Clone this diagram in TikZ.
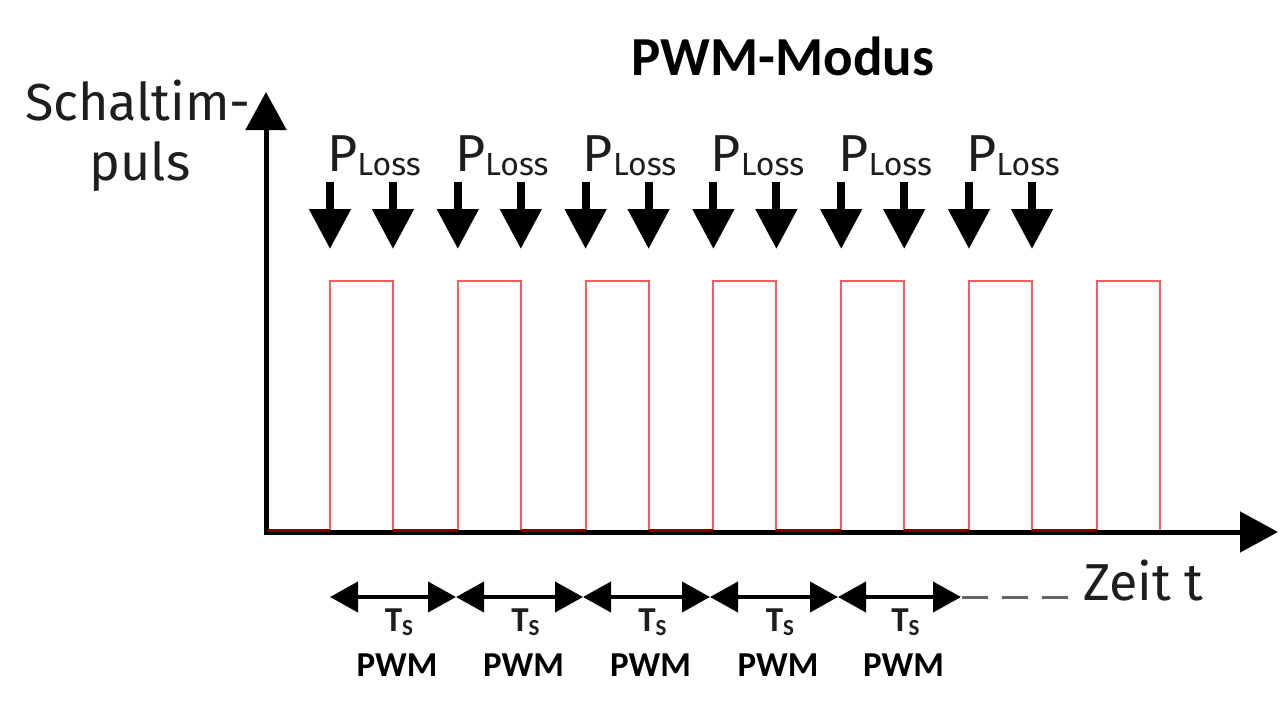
\documentclass[tikz,border=0pt]{standalone}
\usepackage{fontspec}
\setmainfont{Fira Sans}
\newfontfamily\carl{Carlito}
\usetikzlibrary{arrows.meta}
\definecolor{pulsered}{HTML}{FF5A5A}
\definecolor{lowred}{HTML}{800000}
\definecolor{txtgray}{HTML}{1E1E1E}
\tikzset{
  axisline/.style={line width=5pt, line join=miter, {Triangle[length=38pt,width=40pt]}-{Triangle[length=38pt,width=40pt]}},
  pulse/.style={draw=pulsered, line width=2pt},
  lowseg/.style={draw=lowred, line width=2.5pt},
  lossarrow/.style={line width=8pt, -{Triangle[length=40pt,width=40pt]}},
  periodarrow/.style={line width=4pt, {Triangle[length=28pt,width=30pt]}-{Triangle[length=28pt,width=30pt]}},
  contline/.style={draw=gray!80!black, line width=3pt, dash pattern=on 26pt off 14pt},
  bigtxt/.style={inner sep=0pt, text=txtgray, font=\fontsize{52}{60}\selectfont},
  titletxt/.style={inner sep=0pt, font=\carl\bfseries\fontsize{55}{60}\selectfont},
  tstxt/.style={inner sep=0pt, text=txtgray, font=\carl\bfseries\fontsize{35}{35}\selectfont},
  pwmtxt/.style={inner sep=0pt, font=\carl\bfseries\fontsize{35}{35}\selectfont},
  losstxt/.style={inner sep=0pt, text=txtgray}
}
\begin{document}
\begin{tikzpicture}[x=1pt,y=-1pt]
\useasboundingbox (0,0) rectangle (1280,707);
% axes
\coordinate (O) at (266,532);
\coordinate (ytip) at (266,92);
\coordinate (xtip) at (1278,532);
% pulses
\foreach \i in {0,...,6}{
  \pgfmathsetmacro{\xl}{330+127.8*\i}
  \pgfmathsetmacro{\xr}{\xl+63}
  \coordinate (pl\i) at (\xl,532);
  \coordinate (pr\i) at (\xr,532);
  \draw[pulse] (pl\i) -- (\xl,281) -- (\xr,281) -- (pr\i);
}
\draw[axisline] (ytip) -- (O) -- (xtip);
\draw[lowseg] (268,530.5) -- ([yshift=1.5pt]pl0);
\foreach \i/\j in {0/1,1/2,2/3,3/4,4/5,5/6}{
  \draw[lowseg] ([yshift=1.5pt]pr\i) -- ([yshift=1.5pt]pl\j);
}
% loss arrows and labels
\foreach \i in {0,...,5}{
  \pgfmathsetmacro{\xl}{330+127.8*\i}
  \pgfmathsetmacro{\xr}{\xl+63}
  \coordinate (al\i) at (\xl,182);
  \coordinate (ar\i) at (\xr,182);
  \draw[lossarrow] (al\i) -- (\xl,249);
  \draw[lossarrow] (ar\i) -- (\xr,249);
  \node[losstxt, anchor=base west] (loss\i) at (\xl-3,171)
    {{\fontsize{52}{52}\selectfont P}{\fontsize{32}{32}\selectfont\raisebox{-4pt}{Loss}}};
}
% period arrows
\coordinate (b0) at (330,597);
\coordinate (b1) at (456,597);
\coordinate (b2) at (583,597);
\coordinate (b3) at (710,597);
\coordinate (b4) at (838,597);
\coordinate (b5) at (961,597);
\coordinate (dend) at (1068,597);
\foreach \i/\j in {0/1,1/2,2/3,3/4,4/5}{
  \draw[periodarrow] (b\i) -- (b\j);
  \path (b\i) -- (b\j) coordinate[pos=0.5] (m\i);
  \node[tstxt, anchor=base] (ts\i) at ([xshift=6pt,yshift=-34pt]m\i)
    {T{\fontsize{23}{23}\selectfont\raisebox{-4pt}{S}}};
  \node[pwmtxt, anchor=base] (pwm\i) at ([xshift=4pt,yshift=-79pt]m\i) {PWM};
}
\draw[contline] ([xshift=1pt]b5) -- (dend);
% texts
\node[titletxt, anchor=base] (title) at (783,75) {PWM-Modus};
\node[bigtxt, anchor=base] (ylab1) at (138,120) {Schaltim-};
\node[bigtxt, anchor=base] (ylab2) at (140,180) {puls};
\node[bigtxt, anchor=base west] (xlab) at (1083,600) {Zeit t};
\end{tikzpicture}
\end{document}
